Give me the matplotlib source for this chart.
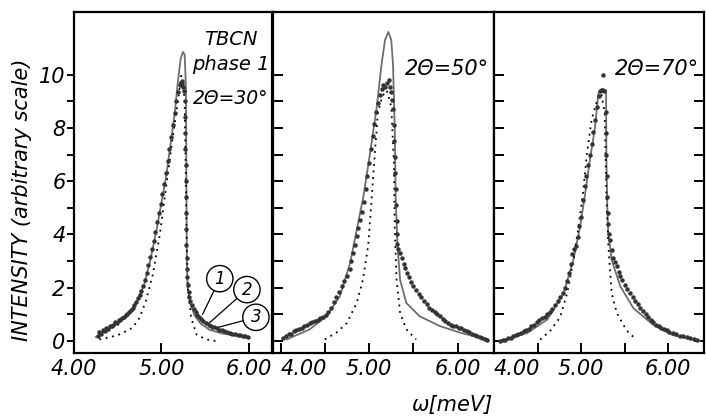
import matplotlib
matplotlib.use("Agg")
from matplotlib import pyplot as plt

plt.rcParams['font.family'] = ['DejaVu Sans']
plt.rcParams['font.style'] = 'italic'

# ---- panel 1 : 2theta = 30 deg ----
p1_solid_x = [4.25, 4.35, 4.45, 4.55, 4.65, 4.72, 4.80, 4.87, 4.94, 5.00, 5.05, 5.10, 5.15, 5.19, 5.22,
              5.245, 5.265, 5.28, 5.285, 5.29, 5.30, 5.33, 5.38, 5.45, 5.55, 5.70, 5.85, 6.00]
p1_solid_y = [0.15, 0.35, 0.55, 0.8, 1.1, 1.5, 2.1, 3.0, 4.1, 5.2, 6.1, 7.3, 8.5, 9.8, 10.6,
              10.85, 10.75, 9.5, 6.0, 3.0, 2.0, 1.4, 0.95, 0.65, 0.42, 0.28, 0.2, 0.12]
p1_dot_x = [4.29, 4.42, 4.52, 4.60, 4.67, 4.75, 4.82, 4.90, 4.98, 5.05, 5.13, 5.19, 5.225,
            5.25, 5.265, 5.275, 5.285, 5.30, 5.34, 5.40, 5.51, 5.62]
p1_dot_y = [0.06, 0.15, 0.25, 0.38, 0.5, 0.87, 1.49, 2.48, 3.97, 5.7, 7.68, 9.05, 9.95,
            9.7, 9.0, 7.0, 4.5, 2.0, 0.87, 0.25, 0.06, 0.0]
p1_data_x = [4.27, 4.29, 4.31, 4.33, 4.35, 4.37, 4.39, 4.41, 4.43, 4.45, 4.47, 4.49, 4.51, 4.53,
             4.55, 4.57, 4.59, 4.61, 4.63, 4.65, 4.67, 4.69, 4.71, 4.73, 4.75, 4.77, 4.79, 4.81,
             4.83, 4.85, 4.87, 4.89, 4.91, 4.93, 4.95, 4.97, 4.99, 5.01, 5.03, 5.05, 5.07, 5.09,
             5.11, 5.13, 5.15, 5.17, 5.19, 5.21, 5.22, 5.23, 5.24, 5.25, 5.26, 5.265, 5.27,
             5.272, 5.274, 5.276, 5.278, 5.28, 5.282, 5.284, 5.286, 5.288, 5.29, 5.295, 5.30,
             5.31, 5.32, 5.33, 5.35, 5.37, 5.39, 5.41, 5.43, 5.45, 5.48, 5.51, 5.54, 5.57, 5.60,
             5.63, 5.66, 5.69, 5.72, 5.75, 5.78, 5.81, 5.84, 5.87, 5.90, 5.93, 5.96, 5.99]
p1_data_y = [0.20, 0.32, 0.28, 0.40, 0.36, 0.48, 0.45, 0.55, 0.58, 0.62, 0.70, 0.68, 0.78, 0.80,
             0.86, 0.92, 0.98, 1.02, 1.10, 1.15, 1.25, 1.35, 1.48, 1.60, 1.72, 1.88, 2.05, 2.30,
             2.55, 2.85, 3.15, 3.45, 3.75, 4.10, 4.45, 4.80, 5.15, 5.50, 5.90, 6.30, 6.75, 7.20,
             7.65, 8.10, 8.55, 9.00, 9.35, 9.60, 9.70, 9.75, 9.65, 9.55, 9.40, 9.00, 8.40,
             7.80, 7.20, 6.60, 6.00, 5.40, 4.80, 4.20, 3.60, 3.10, 2.70, 2.40, 2.10,
             1.85, 1.65, 1.50, 1.35, 1.20, 1.08, 0.98, 0.90, 0.82, 0.75, 0.68, 0.62, 0.56, 0.52,
             0.47, 0.42, 0.40, 0.36, 0.33, 0.30, 0.28, 0.25, 0.22, 0.22, 0.19, 0.17, 0.15]

# ---- panel 2 : 2theta = 50 deg ----
p2_solid_x = [4.07, 4.33, 4.52, 4.67, 4.785, 4.86, 4.935, 5.01, 5.086, 5.14, 5.18, 5.217, 5.25,
              5.27, 5.29, 5.30, 5.32, 5.35, 5.42, 5.57, 5.80, 6.03, 6.33]
p2_solid_y = [0.06, 0.44, 0.93, 1.68, 2.92, 4.17, 5.41, 7.03, 8.77, 10.38, 11.3, 11.6, 11.3,
              10.38, 7.9, 5.41, 3.6, 2.29, 1.43, 0.93, 0.56, 0.31, 0.06]
p2_dot_x = [4.50, 4.63, 4.75, 4.86, 4.93, 4.99, 5.03, 5.07, 5.10, 5.15, 5.20, 5.25, 5.28,
            5.29, 5.31, 5.35, 5.42, 5.53]
p2_dot_y = [0.06, 0.31, 0.68, 1.43, 2.3, 3.6, 5.4, 7.3, 8.6, 9.2, 9.4, 8.8, 6.7,
            4.2, 2.3, 1.05, 0.44, 0.06]
p2_data_x = [4.03, 4.06, 4.09, 4.12, 4.15, 4.18, 4.21, 4.24, 4.27, 4.30, 4.33, 4.36, 4.39, 4.42,
             4.45, 4.48, 4.51, 4.54, 4.57, 4.60, 4.63, 4.66, 4.69, 4.72, 4.75, 4.78, 4.80, 4.82,
             4.84, 4.86, 4.88, 4.90, 4.92, 4.94, 4.96, 4.98, 5.00, 5.02, 5.04, 5.06, 5.08, 5.10,
             5.12, 5.14, 5.16, 5.18, 5.20, 5.22, 5.24, 5.25, 5.26, 5.27, 5.28, 5.285, 5.29,
             5.295, 5.30, 5.305, 5.31, 5.315, 5.32, 5.33, 5.35, 5.37, 5.39, 5.41, 5.43, 5.45,
             5.47, 5.50, 5.53, 5.56, 5.59, 5.62, 5.65, 5.68, 5.71, 5.74, 5.77, 5.80, 5.83, 5.86,
             5.89, 5.92, 5.95, 5.98, 6.01, 6.04, 6.07, 6.10, 6.13, 6.16, 6.19, 6.22, 6.25, 6.28,
             6.31, 6.33]
p2_data_y = [0.12, 0.18, 0.28, 0.25, 0.36, 0.40, 0.46, 0.50, 0.55, 0.62, 0.66, 0.70, 0.75, 0.80,
             0.86, 0.90, 0.98, 1.10, 1.25, 1.45, 1.65, 1.85, 2.05, 2.25, 2.45, 2.70, 3.00, 3.30,
             3.60, 3.95, 4.25, 4.55, 4.85, 5.20, 5.70, 6.20, 6.70, 7.20, 7.70, 8.15, 8.60, 8.95,
             9.25, 9.45, 9.60, 9.55, 9.70, 9.78, 9.55, 9.35, 9.05, 8.70, 8.10, 7.50, 6.90,
             6.30, 5.70, 5.10, 4.50, 4.00, 3.65, 3.45, 3.30, 3.10, 2.90, 2.75, 2.55, 2.40,
             2.20, 2.05, 1.90, 1.75, 1.65, 1.50, 1.40, 1.25, 1.15, 1.08, 1.00, 0.95, 0.82, 0.75,
             0.66, 0.60, 0.58, 0.55, 0.50, 0.48, 0.42, 0.38, 0.32, 0.28, 0.24, 0.20, 0.15, 0.10,
             0.06, 0.03]

# ---- panel 3 : 2theta = 70 deg ----
p3_solid_x = [4.07, 4.38, 4.61, 4.80, 4.91, 4.989, 5.046, 5.10, 5.16, 5.198, 5.23, 5.26, 5.286,
              5.29, 5.30, 5.31, 5.35, 5.45, 5.60, 5.83, 6.05, 6.36]
p3_solid_y = [0.0, 0.3, 0.8, 1.8, 3.04, 4.3, 5.54, 6.79, 8.04, 9.29, 9.45, 9.45, 9.4,
              6.79, 5.05, 4.1, 3.04, 2.05, 1.23, 0.6, 0.22, 0.0]
p3_dot_x = [4.53, 4.65, 4.76, 4.84, 4.91, 4.97, 5.02, 5.065, 5.12, 5.18, 5.23, 5.27, 5.29,
            5.31, 5.35, 5.41, 5.52, 5.60]
p3_dot_y = [0.05, 0.4, 0.9, 1.8, 3.0, 4.3, 5.5, 7.0, 8.3, 9.0, 9.3, 8.6, 5.5,
            3.7, 1.8, 1.05, 0.4, 0.15]
p3_data_x = [4.07, 4.10, 4.13, 4.16, 4.19, 4.22, 4.25, 4.28, 4.31, 4.34, 4.37, 4.40, 4.43, 4.46,
             4.49, 4.52, 4.55, 4.58, 4.61, 4.64, 4.67, 4.70, 4.73, 4.76, 4.79, 4.82, 4.84, 4.86,
             4.88, 4.90, 4.92, 4.94, 4.96, 4.98, 5.00, 5.02, 5.04, 5.06, 5.08, 5.10, 5.12, 5.14,
             5.16, 5.18, 5.20, 5.22, 5.24, 5.26, 5.28, 5.285, 5.29, 5.295, 5.30, 5.305, 5.31,
             5.32, 5.33, 5.35, 5.37, 5.39, 5.41, 5.43, 5.45, 5.47, 5.50, 5.53, 5.56, 5.59, 5.62,
             5.65, 5.68, 5.71, 5.74, 5.77, 5.80, 5.83, 5.86, 5.89, 5.92, 5.95, 5.98, 6.01, 6.05,
             6.09, 6.13, 6.17, 6.21, 6.25, 6.29, 6.33, 5.255]
p3_data_y = [0.00, 0.05, 0.04, 0.10, 0.12, 0.18, 0.22, 0.28, 0.30, 0.38, 0.42, 0.46, 0.55, 0.62,
             0.70, 0.78, 0.85, 0.92, 1.00, 1.10, 1.22, 1.35, 1.50, 1.65, 1.80, 2.00, 2.25, 2.55,
             2.90, 3.25, 3.45, 3.55, 3.90, 4.30, 4.65, 5.30, 5.80, 6.20, 6.60, 7.00, 7.40, 7.85,
             8.30, 8.80, 9.20, 9.40, 9.42, 9.40, 8.60, 7.80, 7.00, 6.20, 5.40, 4.80, 4.40,
             4.00, 3.80, 3.40, 3.10, 2.95, 2.80, 2.60, 2.45, 2.30, 2.10, 1.95, 1.80, 1.65, 1.52,
             1.40, 1.25, 1.12, 1.00, 0.90, 0.80, 0.70, 0.62, 0.55, 0.50, 0.45, 0.40, 0.35, 0.30,
             0.25, 0.20, 0.17, 0.14, 0.12, 0.08, 0.05, 9.97]

panels = [
    dict(rect=[0.1048, 0.1595, 0.2805, 0.812], xlim=(4.0, 6.264), label='2Θ=30°', lab_xy=(5.79, 9.1),
         fs=13.5, solid=(p1_solid_x, p1_solid_y), dot=(p1_dot_x, p1_dot_y), data=(p1_data_x, p1_data_y)),
    dict(rect=[0.3867, 0.1595, 0.313, 0.812], xlim=(3.915, 6.41), label='2Θ=50°', lab_xy=(5.88, 10.2),
         fs=15, solid=(p2_solid_x, p2_solid_y), dot=(p2_dot_x, p2_dot_y), data=(p2_data_x, p2_data_y)),
    dict(rect=[0.6997, 0.1595, 0.2975, 0.812], xlim=(4.006, 6.41), label='2Θ=70°', lab_xy=(5.87, 10.2),
         fs=15, solid=(p3_solid_x, p3_solid_y), dot=(p3_dot_x, p3_dot_y), data=(p3_data_x, p3_data_y)),
]

fig = plt.figure(figsize=(7.06, 4.2), dpi=100)
axes = []
for i, p in enumerate(panels):
    ax = fig.add_axes(p['rect'])
    ax.plot(*p['solid'], color='#6e6e6e', lw=1.3, zorder=2)
    ax.plot(*p['dot'], color='black', lw=1.3, linestyle=(0, (1, 2.6)), zorder=3)
    ax.plot(*p['data'], linestyle='none', marker='o', ms=2.2, color='#333333', zorder=4)
    ax.set_xlim(*p['xlim'])
    ax.text(p['lab_xy'][0], p['lab_xy'][1], p['label'], fontsize=p['fs'], ha='center', va='center')
    for s in ax.spines.values():
        s.set_linewidth(1.6)
    if i == 0:
        ax.set_xticks([4, 5, 6])
        ax.set_xticklabels(['4.00', '5.00', '6.00'])
        ax.set_yticks([0, 2, 4, 6, 8, 10])
        ax.set_yticks([1, 3, 5, 7, 9], minor=True)
        ax.tick_params(axis='y', which='both', direction='out', length=5, width=1.4,
                       labelsize=15, pad=1)
        ax.set_ylabel('INTENSITY (arbitrary scale)', fontsize=15)
        ax.yaxis.set_label_coords(-0.21, 0.45)
    else:
        ax.set_xticks([4, 5, 6])
        ax.set_xticks([4.5, 5.5], minor=True)
        ax.set_xticklabels(['4.00', '5.00', '6.00'])
        ax.get_xticklabels()[0].set_ha('left')
        ax.set_yticks(range(0, 11))
        ax.tick_params(axis='y', which='both', direction='in', length=7, width=1.4,
                       labelleft=False, right=(i == 2))
    ax.set_ylim(-0.45, 12.35)
    ax.tick_params(axis='x', which='both', direction='in', length=7, width=1.4, labelsize=15, pad=4)
    axes.append(ax)

ax1 = axes[0]
ax1.text(5.79, 11.3, 'TBCN', fontsize=14, ha='center', va='center')
ax1.text(5.79, 10.37, 'phase 1', fontsize=14, ha='center', va='center')
circ = dict(boxstyle='circle,pad=0.25', fc='white', ec='black', lw=1.0)
ax1.annotate('1', xy=(5.47, 1.0), xytext=(5.667, 2.34), fontsize=12, ha='center', va='center',
             bbox=circ, arrowprops=dict(arrowstyle='-', lw=0.9, shrinkA=0, shrinkB=0))
ax1.annotate('2', xy=(5.53, 0.63), xytext=(5.977, 1.93), fontsize=12, ha='center', va='center',
             bbox=circ, arrowprops=dict(arrowstyle='-', lw=0.9, shrinkA=0, shrinkB=0))
ax1.annotate('3', xy=(5.575, 0.45), xytext=(6.08, 0.89), fontsize=12, ha='center', va='center',
             bbox=circ, arrowprops=dict(arrowstyle='-', lw=0.9, shrinkA=0, shrinkB=0))

fig.text(452 / 706, 1 - 405 / 420, 'ω[meV]', fontsize=15, ha='center', va='center')

fig.savefig('out.png', dpi=100)
